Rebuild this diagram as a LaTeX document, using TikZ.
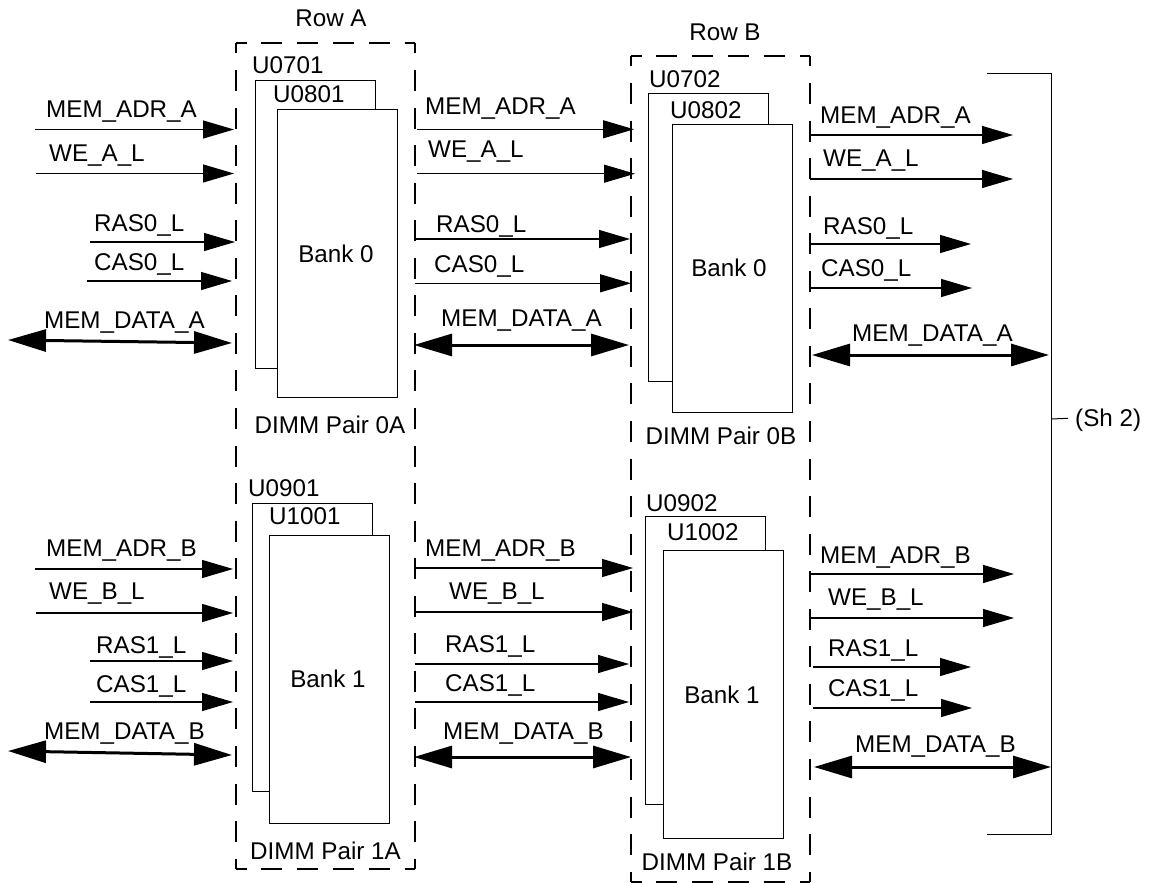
\documentclass[tikz,border=0pt]{standalone}
\usepackage{fontspec}
\setmainfont{Liberation Sans}
\usetikzlibrary{
    arrows.meta,
    positioning,
}
\tikzset{
    rowbox/.style={rectangle, minimum width=179pt, minimum height=826pt, anchor=north west, inner sep=0pt, outer sep=0pt},
    rowh/.style={line width=1.2pt, dash pattern=on 21pt off 14.8pt, dash phase=10.5pt},
    rowv/.style={line width=1.2pt, dash pattern=on 21pt off 16.55pt, dash phase=10.5pt},
    module/.style={rectangle, draw, fill=white, line width=1.3pt, anchor=north west, inner sep=0pt, minimum width=120pt, minimum height=288pt},
    lbl/.style={font=\fontsize{24.2}{24}\selectfont, inner sep=0pt, anchor=west, text height=17pt, text depth=0pt},
    ctr/.style={lbl, anchor=center},
    sig/.style={-{Triangle[length=31pt,width=18pt]}, line width=1.2pt},
    bus/.style={{Triangle[length=38pt,width=22pt]}-{Triangle[length=38pt,width=22pt]}, line width=3pt},
    bracket/.style={line width=1pt},
}
\begin{document}
\begin{tikzpicture}[x=1pt, y=-1pt]
    \useasboundingbox (0,0) rectangle (1157,883);

    \node[rowbox] (rowa) at (236,43) {};
    \node[rowbox] (rowb) at (631,56) {};
    \node[ctr] (rowa_t) at (331,18) {Row A};
    \node[ctr] (rowb_t) at (725,32) {Row B};

    \node[module] (u0701) at (255,80) {};
    \node[module] (u0801) at (277,109) {};
    \node[module] (u0702) at (648,93) {};
    \node[module] (u0802) at (672,124) {};
    \node[module] (u0901) at (252,503) {};
    \node[module] (u1001) at (269,534.5) {};
    \node[module] (u0902) at (645,516) {};
    \node[module] (u1002) at (663,550) {};

    \node[lbl] (u0701_t) at (252,65) {U0701};
    \node[lbl] (u0801_t) at (273,94) {U0801};
    \node[lbl] (u0702_t) at (649,79) {U0702};
    \node[lbl] (u0802_t) at (670,110) {U0802};
    \node[lbl] (u0901_t) at (248,488) {U0901};
    \node[lbl] (u1001_t) at (269,516) {U1001};
    \node[lbl] (u0902_t) at (646,503) {U0902};
    \node[lbl] (u1002_t) at (667,532) {U1002};

    \node[ctr] (bank0a) at (336,254) {Bank 0};
    \node[ctr] (bank0b) at (729,268) {Bank 0};
    \node[ctr] (bank1a) at (328,679) {Bank 1};
    \node[ctr] (bank1b) at (722,695) {Bank 1};

    \node[ctr] (pair0a) at (330,425) {DIMM Pair 0A};
    \node[ctr] (pair0b) at (721,436) {DIMM Pair 0B};
    \node[ctr] (pair1a) at (325.5,851) {DIMM Pair 1A};
    \node[ctr] (pair1b) at (717,862) {DIMM Pair 1B};

    % ===== SIGNAL LABELS =====
    \node[lbl] (l1) at (46,109) {MEM\_ADR\_A};
    \node[lbl] (l2) at (49,153) {WE\_A\_L};
    \node[lbl] (l3) at (94,223) {RAS0\_L};
    \node[lbl] (l4) at (94,262) {CAS0\_L};
    \node[lbl] (l5) at (44,320) {MEM\_DATA\_A};

    \node[lbl] (m1) at (425,106) {MEM\_ADR\_A};
    \node[lbl] (m2) at (428,149) {WE\_A\_L};
    \node[lbl] (m3) at (436,224) {RAS0\_L};
    \node[lbl] (m4) at (434,264) {CAS0\_L};
    \node[lbl] (m5) at (441,318) {MEM\_DATA\_A};

    \node[lbl] (r1) at (820,115) {MEM\_ADR\_A};
    \node[lbl] (r2) at (823,158) {WE\_A\_L};
    \node[lbl] (r3) at (823,226) {RAS0\_L};
    \node[lbl] (r4) at (821,268) {CAS0\_L};
    \node[lbl] (r5) at (852,333) {MEM\_DATA\_A};

    \node[lbl] (l6) at (46,548) {MEM\_ADR\_B};
    \node[lbl] (l7) at (49,591) {WE\_B\_L};
    \node[lbl] (l8) at (96,645) {RAS1\_L};
    \node[lbl] (l9) at (96,684) {CAS1\_L};
    \node[lbl] (l10) at (44,731) {MEM\_DATA\_B};

    \node[lbl] (m6) at (425,548) {MEM\_ADR\_B};
    \node[lbl] (m7) at (449,591) {WE\_B\_L};
    \node[lbl] (m8) at (445,644) {RAS1\_L};
    \node[lbl] (m9) at (445,683) {CAS1\_L};
    \node[lbl] (m10) at (443,731) {MEM\_DATA\_B};

    \node[lbl] (r6) at (820,555) {MEM\_ADR\_B};
    \node[lbl] (r7) at (828,597) {WE\_B\_L};
    \node[lbl] (r8) at (828,648) {RAS1\_L};
    \node[lbl] (r9) at (828,688) {CAS1\_L};
    \node[lbl] (r10) at (855,744) {MEM\_DATA\_B};

    \node[lbl] (sh2) at (1075,418) {(Sh 2)};

    % ===== LINE ENDS =====
    \coordinate (l1a) at (35,129.5);   \coordinate (l1b) at (234,129.5);
    \coordinate (l2a) at (36,173.5);   \coordinate (l2b) at (234,173.5);
    \coordinate (l3a) at (90,242);     \coordinate (l3b) at (235,242);
    \coordinate (l4a) at (87,281);     \coordinate (l4b) at (232,281);
    \coordinate (l5a) at (8,340);      \coordinate (l5b) at (232,343);

    \coordinate (m1a) at (417,129.3);  \coordinate (m1b) at (634,129.3);
    \coordinate (m2a) at (417,173.7);  \coordinate (m2b) at (635,173.7);
    \coordinate (m3a) at (414,239);    \coordinate (m3b) at (630,239);
    \coordinate (m4a) at (415,283.3);  \coordinate (m4b) at (631,283.3);
    \coordinate (m5a) at (414,345);    \coordinate (m5b) at (629,345);

    \coordinate (r1a) at (810,135);    \coordinate (r1b) at (1013,135);
    \coordinate (r2a) at (810,179);    \coordinate (r2b) at (1013,179);
    \coordinate (r3a) at (810,244);    \coordinate (r3b) at (971,244);
    \coordinate (r4a) at (810,288);    \coordinate (r4b) at (972,288);
    \coordinate (r5a) at (812,355);    \coordinate (r5b) at (1049,355);

    \coordinate (l6a) at (35,569);     \coordinate (l6b) at (233,569);
    \coordinate (l7a) at (36,613);     \coordinate (l7b) at (233,613);
    \coordinate (l8a) at (90,661);     \coordinate (l8b) at (233,661);
    \coordinate (l9a) at (90,702);     \coordinate (l9b) at (233,702);
    \coordinate (l10a) at (8,751);     \coordinate (l10b) at (232,755);

    \coordinate (m6a) at (415,568);    \coordinate (m6b) at (633,568);
    \coordinate (m7a) at (415,612);    \coordinate (m7b) at (633,612);
    \coordinate (m8a) at (415,664);    \coordinate (m8b) at (629,664);
    \coordinate (m9a) at (415,702);    \coordinate (m9b) at (629,702);
    \coordinate (m10a) at (414,757);   \coordinate (m10b) at (631,757);

    \coordinate (r6a) at (810,574);    \coordinate (r6b) at (1014,574);
    \coordinate (r7a) at (810,618);    \coordinate (r7b) at (1014,618);
    \coordinate (r8a) at (813,667);    \coordinate (r8b) at (971,667);
    \coordinate (r9a) at (813,708);    \coordinate (r9b) at (972,708);
    \coordinate (r10a) at (814,767);   \coordinate (r10b) at (1051,767);

    \coordinate (bra) at (987,74);     \coordinate (brb) at (1051,74);
    \coordinate (brc) at (1051,834);   \coordinate (brd) at (987,834);
    \coordinate (tick) at (1051,419);

    % ===== DRAW ALL CONNECTIONS =====
    \draw[rowh] (rowa.north west) -- (rowa.north east);
    \draw[rowh] (rowa.south west) -- (rowa.south east);
    \draw[rowv] (rowa.north west) -- (rowa.south west);
    \draw[rowv] (rowa.north east) -- (rowa.south east);

    \draw[rowh] (rowb.north west) -- (rowb.north east);
    \draw[rowh] (rowb.south west) -- (rowb.south east);
    \draw[rowv] (rowb.north west) -- (rowb.south west);
    \draw[rowv] (rowb.north east) -- (rowb.south east);

    \draw[sig] (l1a) -- (l1b);
    \draw[sig] (l2a) -- (l2b);
    \draw[sig] (l3a) -- (l3b);
    \draw[sig] (l4a) -- (l4b);
    \draw[bus] (l5a) -- (l5b);

    \draw[sig] (m1a) -- (m1b);
    \draw[sig] (m2a) -- (m2b);
    \draw[sig] (m3a) -- (m3b);
    \draw[sig] (m4a) -- (m4b);
    \draw[bus] (m5a) -- (m5b);

    \draw[sig] (r1a) -- (r1b);
    \draw[sig] (r2a) -- (r2b);
    \draw[sig] (r3a) -- (r3b);
    \draw[sig] (r4a) -- (r4b);
    \draw[bus] (r5a) -- (r5b);

    \draw[sig] (l6a) -- (l6b);
    \draw[sig] (l7a) -- (l7b);
    \draw[sig] (l8a) -- (l8b);
    \draw[sig] (l9a) -- (l9b);
    \draw[bus] (l10a) -- (l10b);

    \draw[sig] (m6a) -- (m6b);
    \draw[sig] (m7a) -- (m7b);
    \draw[sig] (m8a) -- (m8b);
    \draw[sig] (m9a) -- (m9b);
    \draw[bus] (m10a) -- (m10b);

    \draw[sig] (r6a) -- (r6b);
    \draw[sig] (r7a) -- (r7b);
    \draw[sig] (r8a) -- (r8b);
    \draw[sig] (r9a) -- (r9b);
    \draw[bus] (r10a) -- (r10b);

    \draw[bracket] (bra) -- (brb) -- (brc) -- (brd);
    \draw[bracket, shorten >=7pt] (tick) -- (sh2.west);

\end{tikzpicture}
\end{document}
